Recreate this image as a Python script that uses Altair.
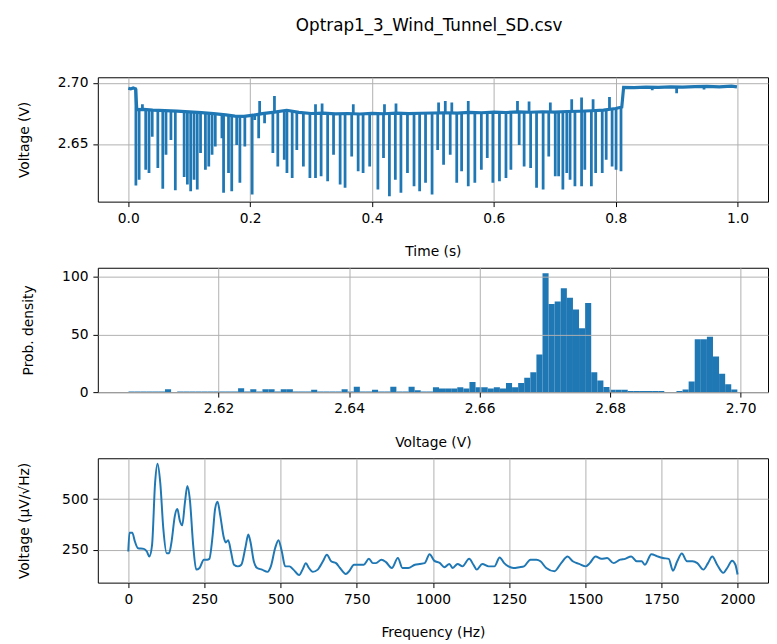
import altair as alt
import pandas as pd
import numpy as np

FONT = "DejaVu Sans"
BLUE = "#1f77b4"

# ---------------- top panel: voltage vs time ----------------
base_t = [0.000, 0.004, 0.008, 0.012, 0.014, 0.025, 0.040, 0.060, 0.080, 0.100,
          0.120, 0.140, 0.160, 0.175, 0.190, 0.205, 0.220, 0.240, 0.260, 0.280,
          0.300, 0.320, 0.340, 0.360, 0.380, 0.400, 0.420, 0.440, 0.460, 0.480,
          0.500, 0.520, 0.540, 0.560, 0.580, 0.600, 0.620, 0.640, 0.660, 0.680,
          0.700, 0.720, 0.740, 0.760, 0.780, 0.800, 0.810, 0.813, 0.830, 0.850,
          0.870, 0.890, 0.910, 0.930, 0.950, 0.970, 0.990, 0.999]
base_v = [2.6955, 2.6950, 2.6958, 2.6950, 2.6781, 2.6783, 2.6776, 2.6772, 2.6768, 2.6762,
          2.6756, 2.6748, 2.6738, 2.6727, 2.6725, 2.6735, 2.6748, 2.6760, 2.6775, 2.6758,
          2.6749, 2.6752, 2.6746, 2.6749, 2.6745, 2.6750, 2.6747, 2.6752, 2.6748, 2.6751,
          2.6753, 2.6755, 2.6752, 2.6758, 2.6755, 2.6760, 2.6757, 2.6762, 2.6759, 2.6763,
          2.6760, 2.6765, 2.6767, 2.6771, 2.6776, 2.6790, 2.6802, 2.6962, 2.6960, 2.6964,
          2.6962, 2.6967, 2.6964, 2.6968, 2.6970, 2.6967, 2.6972, 2.6966]

# vertical excursions (spikes): time, low end, high end
spike_t = [0.0125, 0.0178, 0.0286, 0.0340, 0.0393, 0.0485, 0.0566, 0.0619, 0.0700, 0.0772,
           0.0917, 0.0970, 0.1024, 0.1079, 0.1132, 0.1186, 0.1266, 0.1321, 0.1375, 0.1428,
           0.1537, 0.1564, 0.1645, 0.1698, 0.1779, 0.1832, 0.1913, 0.2033, 0.2075, 0.2140,
           0.2237, 0.2373, 0.2454, 0.2560, 0.2604, 0.2690,
           0.2766, 0.2874, 0.2981, 0.3073, 0.3165, 0.3272, 0.3369, 0.3477, 0.3558, 0.3667,
           0.3773, 0.3854, 0.3962, 0.4097, 0.4189, 0.4286, 0.4383, 0.4475, 0.4582, 0.4690,
           0.4782, 0.4879, 0.4986, 0.5078, 0.5175, 0.5284, 0.5391, 0.5471,
           0.5580, 0.5688, 0.5795, 0.5892, 0.5984, 0.6092, 0.6199, 0.6280, 0.6416, 0.6497,
           0.6604, 0.6701, 0.6809, 0.6901, 0.7008, 0.7063, 0.7133, 0.7197, 0.7251, 0.7331,
           0.7440, 0.7493, 0.7601, 0.7671, 0.7779, 0.7844, 0.7941, 0.8006, 0.8087,
           0.0232, 0.2156, 0.2399, 0.3073, 0.3181, 0.3693, 0.4205, 0.4394, 0.5093, 0.5203,
           0.5310, 0.5580, 0.6388, 0.6578, 0.6927, 0.7278, 0.7440, 0.7629, 0.7898,
           0.8600, 0.9000, 0.9450]
spike_lo = [2.6160, 2.6208, 2.6289, 2.6263, 2.6559, 2.6303, 2.6133, 2.6411, 2.6532, 2.6122,
            2.6230, 2.6168, 2.6113, 2.6208, 2.6127, 2.6425, 2.6289, 2.6316, 2.6411, 2.6478,
            2.6546, 2.6100, 2.6263, 2.6113, 2.6492, 2.6182, 2.6478, 2.6087, 2.6695, 2.6546,
            2.6670, 2.6425, 2.6316, 2.6370, 2.6263, 2.6222,
            2.6451, 2.6316, 2.6222, 2.6222, 2.6235, 2.6195, 2.6411, 2.6168, 2.6141, 2.6397,
            2.6276, 2.6263, 2.6316, 2.6127, 2.6384, 2.6073, 2.6208, 2.6100, 2.6263, 2.6154,
            2.6113, 2.6182, 2.6087, 2.6451, 2.6330, 2.6411, 2.6182, 2.6276,
            2.6154, 2.6182, 2.6289, 2.6384, 2.6182, 2.6195, 2.6222, 2.6289, 2.6492, 2.6316,
            2.6303, 2.6141, 2.6127, 2.6397, 2.6235, 2.6235, 2.6127, 2.6263, 2.6208, 2.6154,
            2.6154, 2.6289, 2.6154, 2.6263, 2.6263, 2.6370, 2.6316, 2.6289, 2.6276,
            2.6781, 2.6740, 2.6758, 2.6749, 2.6750, 2.6748, 2.6747, 2.6750, 2.6752, 2.6754,
            2.6753, 2.6756, 2.6760, 2.6759, 2.6762, 2.6765, 2.6767, 2.6770, 2.6777,
            2.6938, 2.6915, 2.6945]
spike_hi = [2.6950, 2.6781, 2.6781, 2.6780, 2.6778, 2.6778, 2.6775, 2.6775, 2.6772, 2.6770,
            2.6765, 2.6762, 2.6760, 2.6758, 2.6756, 2.6754, 2.6752, 2.6750, 2.6748, 2.6745,
            2.6738, 2.6736, 2.6730, 2.6727, 2.6725, 2.6725, 2.6727, 2.6735, 2.6738, 2.6748,
            2.6755, 2.6762, 2.6768, 2.6775, 2.6778, 2.6765,
            2.6758, 2.6752, 2.6749, 2.6750, 2.6752, 2.6749, 2.6746, 2.6748, 2.6749, 2.6748,
            2.6745, 2.6746, 2.6750, 2.6748, 2.6747, 2.6750, 2.6752, 2.6750, 2.6748, 2.6751,
            2.6751, 2.6752, 2.6753, 2.6753, 2.6755, 2.6754, 2.6752, 2.6753,
            2.6756, 2.6756, 2.6755, 2.6757, 2.6760, 2.6759, 2.6757, 2.6758, 2.6760, 2.6761,
            2.6759, 2.6761, 2.6763, 2.6762, 2.6760, 2.6762, 2.6764, 2.6765, 2.6766, 2.6766,
            2.6767, 2.6768, 2.6770, 2.6771, 2.6775, 2.6777, 2.6780, 2.6785, 2.6798,
            2.6825, 2.6852, 2.6892, 2.6825, 2.6830, 2.6825, 2.6825, 2.6830, 2.6838, 2.6852,
            2.6838, 2.6852, 2.6852, 2.6846, 2.6838, 2.6866, 2.6879, 2.6866, 2.6884,
            2.6962, 2.6966, 2.6968]

# ---------------- middle panel: histogram ----------------
hist_min = 2.6062
hist_max = 2.6995
hist_density = [0.6, 0.6, 0.6, 0.6, 0.6, 0.6, 2.4, 0.0, 0.6, 0.6,
                0.6, 0.6, 0.6, 0.6, 0.6, 0.6, 0.6, 0.6, 3.4, 0.6,
                2.4, 0.6, 2.4, 2.4, 0.6, 2.4, 2.4, 0.6, 0.6, 0.6,
                2.0, 0.6, 0.6, 0.6, 0.6, 2.4, 0.6, 4.6, 0.6, 0.6,
                2.0, 0.6, 0.6, 4.6, 0.6, 0.6, 4.6, 1.7, 0.6, 0.6,
                4.3, 3.2, 3.2, 3.2, 4.3, 3.2, 8.9, 4.3, 4.3, 3.2,
                4.3, 3.2, 8.0, 4.3, 8.0, 12.4, 17.3, 32.7, 103.3, 76.5,
                78.7, 90.3, 82.0, 71.8, 55.4, 77.4, 17.3, 10.0, 4.5, 2.1,
                2.1, 2.1, 1.0, 1.0, 1.0, 1.0, 1.0, 1.0, 0.0, 0.0,
                1.0, 2.2, 9.2, 46.0, 46.0, 48.2, 31.0, 16.0, 6.8, 2.2]

# ---------------- bottom panel: spectrum ----------------
freq_hz = [0, 4, 13, 22, 32, 51, 61, 69, 78, 88, 96, 105, 115, 126, 134, 142, 153, 161, 169, 177,
           186, 194, 202, 213, 223, 234, 248, 259, 266, 277, 285, 293, 302, 313, 320, 328, 337, 347,
           360, 371, 385, 394, 401, 412, 423, 439, 457, 468, 482, 493, 504, 515, 529, 542, 561, 572,
           583, 593, 606, 622, 639, 652, 666, 682, 695, 714, 725, 741, 757, 773, 790, 803, 813, 831,
           846, 865, 885, 900, 919, 941, 957, 973, 989, 1005, 1022, 1038, 1054, 1065, 1081, 1097,
           1119, 1133, 1144, 1162, 1183, 1202, 1219, 1234, 1248, 1264, 1284, 1299, 1320, 1340, 1353,
           1372, 1399, 1421, 1442, 1459, 1480, 1502, 1515, 1534, 1553, 1572, 1593, 1615, 1631, 1651,
           1669, 1685, 1696, 1717, 1737, 1755, 1774, 1788, 1802, 1817, 1834, 1852, 1868, 1888, 1903,
           1917, 1933, 1953, 1966, 1982, 1993, 2000]
amp_uv = [242, 335, 335, 290, 258, 255, 242, 218, 274, 580, 674, 580, 355, 234, 234, 290, 419, 452, 395, 371,
          484, 565, 500, 274, 153, 161, 202, 202, 206, 323, 452, 487, 419, 315, 287, 298, 242, 177,
          169, 177, 266, 326, 290, 194, 161, 153, 142, 169, 258, 298, 242, 169, 169, 153, 126, 153,
          185, 161, 142, 153, 194, 226, 194, 185, 161, 132, 145, 177, 177, 177, 206, 185, 185, 202,
          190, 161, 210, 161, 161, 177, 181, 185, 229, 196, 186, 165, 181, 161, 181, 169,
          206, 177, 153, 181, 169, 169, 213, 185, 169, 161, 165, 169, 202, 202, 194,
          161, 145, 185, 218, 194, 181, 169, 185, 218, 206, 210, 185, 202, 206, 218,
          194, 194, 177, 229, 218, 210, 206, 148, 194, 232, 194, 194, 185, 153, 185,
          218, 177, 137, 161, 197, 177, 129]

# ---------------- tables ----------------
df_base = pd.DataFrame({"t": base_t, "v": base_v})
df_spike = pd.DataFrame({"t": spike_t, "lo": spike_lo, "hi": spike_hi})
edges = np.linspace(hist_min, hist_max, len(hist_density) + 1)
df_hist = pd.DataFrame({"lo": edges[:-1], "hi": edges[1:], "d": hist_density})
df_spec = pd.DataFrame({"f": freq_hz, "a": amp_uv})

W = 679
H = 126

# top
xt = alt.X("t:Q", scale=alt.Scale(domain=[-0.05, 1.05], nice=False, zero=False),
           axis=alt.Axis(values=[0, 0.2, 0.4, 0.6, 0.8, 1.0], format=".1f", title="Time (s)"))
yt = alt.Y("v:Q", scale=alt.Scale(domain=[2.6028, 2.7045], nice=False, zero=False),
           axis=alt.Axis(values=[2.65, 2.70], format=".2f", title="Voltage (V)", titlePadding=26))
top_line = alt.Chart(df_base).mark_line(color=BLUE, strokeWidth=3.2, clip=True).encode(x=xt, y=yt)
top_spk = alt.Chart(df_spike).mark_rule(color=BLUE, strokeWidth=2.8, clip=True).encode(
    x="t:Q", y="lo:Q", y2="hi:Q")
top = alt.layer(top_line, top_spk).properties(width=W, height=H)

# middle
mid = alt.Chart(df_hist).mark_rect(color=BLUE, clip=True).encode(
    x=alt.X("lo:Q", scale=alt.Scale(domain=[2.6015, 2.7042], nice=False, zero=False),
            axis=alt.Axis(values=[2.62, 2.64, 2.66, 2.68, 2.70], format=".2f", title="Voltage (V)", zindex=1)),
    x2="hi:Q",
    y=alt.Y("d:Q", scale=alt.Scale(domain=[0, 108], nice=False),
            axis=alt.Axis(values=[0, 50, 100], title="Prob. density", titlePadding=26, zindex=1)),
    y2=alt.datum(0),
).properties(width=W, height=H)

# bottom
bot = alt.Chart(df_spec).mark_line(color=BLUE, strokeWidth=2, interpolate="monotone", clip=True).encode(
    x=alt.X("f:Q", scale=alt.Scale(domain=[-100, 2100], nice=False, zero=False),
            axis=alt.Axis(values=list(range(0, 2001, 250)), format="d", title="Frequency (Hz)")),
    y=alt.Y("a:Q", scale=alt.Scale(domain=[89, 701], nice=False, zero=False),
            axis=alt.Axis(values=[250, 500], format="d", title="Voltage (μV/√Hz)", titlePadding=31)),
).properties(width=W, height=H)

chart = alt.vconcat(top, mid, bot, spacing=7).properties(
    title=alt.Title("Optrap1_3_Wind_Tunnel_SD.csv", offset=41, anchor="middle", dx=37),
    padding={"left": 8, "right": 0, "top": 5, "bottom": 0},
).configure_axis(
    labelFont=FONT, titleFont=FONT, labelFontSize=14, titleFontSize=14,
    titleFontWeight="normal", labelColor="black", titleColor="black",
    tickColor="black", tickSize=5, tickWidth=1, domain=False,
    gridColor="#b0b0b0", gridWidth=1, gridOpacity=1, labelPadding=5, titlePadding=20,
).configure_view(stroke="black", strokeWidth=1).configure_title(
    font=FONT, fontSize=17, fontWeight="normal", color="black")

chart.save("out.html", embed_options={"renderer": "svg", "actions": False})
